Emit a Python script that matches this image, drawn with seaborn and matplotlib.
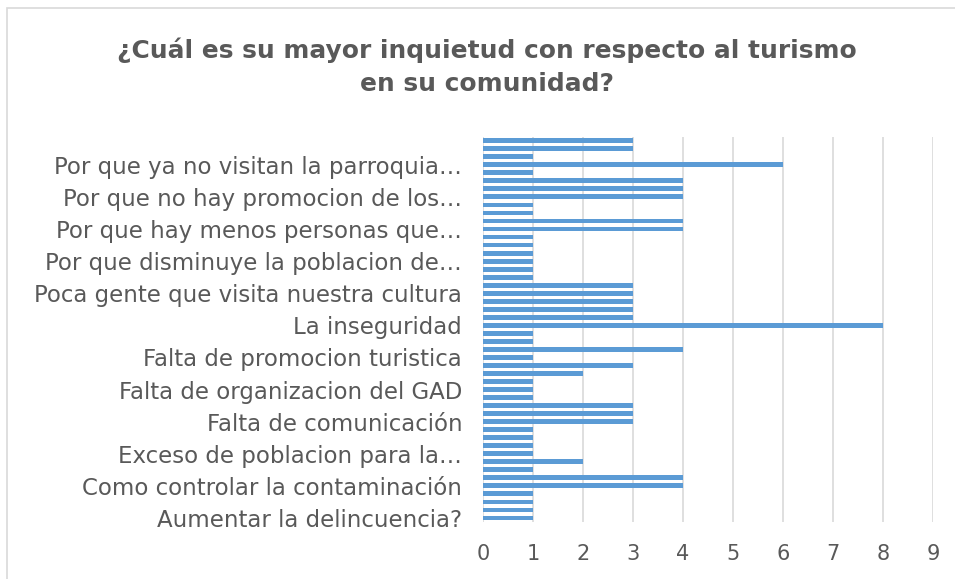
import matplotlib
matplotlib.use("Agg")
import matplotlib.pyplot as plt
import seaborn as sns
import numpy as np
import pandas as pd
from matplotlib.patches import Rectangle

title = "¿Cuál es su mayor inquietud con respecto al turismo\nen su comunidad?"

# Responses counted, listed from the top bar down to the bottom bar
values_top_down = [3, 3, 1, 6, 1, 4, 4, 4, 1, 1, 4, 4, 1, 1, 1, 1,
                   1, 1, 3, 3, 3, 3, 3, 8, 1, 1, 4, 1, 3, 2, 1, 1,
                   1, 3, 3, 3, 1, 1, 1, 1, 2, 1, 4, 4, 1, 1, 1, 1]

# Category labels that are visible (every 4th category, from the bottom up)
tick_labels = [
    "Aumentar la delincuencia?",
    "Como controlar la contaminación",
    "Exceso de poblacion para la…",
    "Falta de comunicación",
    "Falta de organizacion del GAD",
    "Falta de promocion turistica",
    "La inseguridad",
    "Poca gente que visita nuestra cultura",
    "Por que disminuye la poblacion de…",
    "Por que hay menos personas que…",
    "Por que no hay promocion de los…",
    "Por que ya no visitan la parroquia…",
]
x_ticks = [0, 1, 2, 3, 4, 5, 6, 7, 8, 9]

values = values_top_down[::-1]
positions = list(range(len(values)))
df = pd.DataFrame({"pos": positions, "count": values})

sns.set_theme(style="white")
plt.rcParams['font.family'] = ['DejaVu Sans']
text_color = "#595959"

fig = plt.figure(figsize=(9.55, 5.79), dpi=100)
ax = fig.add_axes([483/955, 1 - 522/579, (933-483)/955, (522-136.7)/579])

sns.barplot(data=df, x="count", y="pos", orient="h", native_scale=True,
            color="#5B9BD5", saturation=1, width=0.6, linewidth=0, ax=ax, zorder=3)

ax.set_xlim(0, 9)
ax.set_ylim(-0.5, len(values) - 0.5)
ax.set_xticks(x_ticks)
ax.set_xticklabels([str(t) for t in x_ticks], fontsize=15, color=text_color)
ax.set_yticks(positions[::4])
ax.set_yticklabels(tick_labels, fontsize=16.5, color=text_color)
ax.tick_params(axis="both", length=0)
ax.tick_params(axis="x", pad=16)
ax.tick_params(axis="y", pad=15)
ax.xaxis.grid(True, color="#d9d9d9", linewidth=1.2, zorder=0)
ax.yaxis.grid(False)
ax.set_axisbelow(True)
for s in ax.spines.values():
    s.set_visible(False)
ax.set_xlabel("")
ax.set_ylabel("")

fig.text(487/955, 1 - 67/579, title, ha="center", va="center", fontsize=17.9,
         fontweight="bold", color=text_color, linespacing=1.45)

fig.patches.append(Rectangle((7/955, -0.1), 1.2, 1 - 8/579 + 0.1, transform=fig.transFigure,
                             fill=False, edgecolor="#d9d9d9", linewidth=1.2))

fig.savefig("out.png", dpi=100)
